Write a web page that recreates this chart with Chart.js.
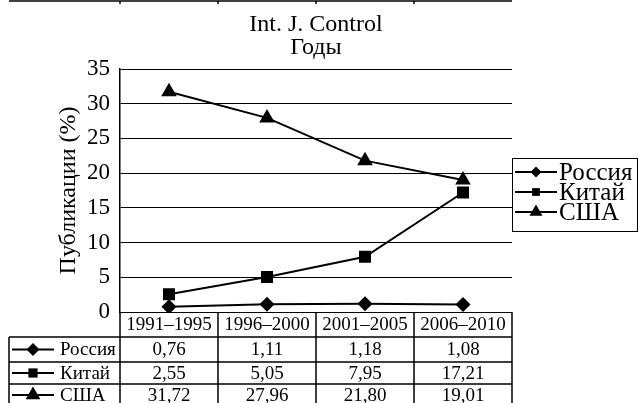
<!DOCTYPE html>
<html>
<head>
<meta charset="utf-8">
<script src="https://cdn.jsdelivr.net/npm/chart.js@4/dist/chart.umd.min.js"></script>
<style>
  html, body { margin: 0; background: #fff; }
  #chart { display: block; }
</style>
</head>
<body>
<canvas id="chart" width="639" height="403"></canvas>
<script>
// Data
const periods = ["1991–1995", "1996–2000", "2001–2005", "2006–2010"];
const countries = ["Россия", "Китай", "США"];
const russia = [0.76, 1.11, 1.18, 1.08];
const china = [2.55, 5.05, 7.95, 17.21];
const usa = [31.72, 27.96, 21.80, 19.01];
const titleLines = ["Int. J. Control", "Годы"];
const yMin = 0, yMax = 35, yStep = 5;

const FONT = "'Liberation Serif', 'DejaVu Serif', serif";
const series = [russia, china, usa];
const styles = ["rectRot", "rect", "triangle"];
const plotRadius = [7.5, 8.5, 9];
const smallRadius = [6.5, 6.5, 8.5];

function fmt(v) {
    return v.toFixed(2).replace(".", ",");
}

function marker(ctx, style, r, x, y) {
    ctx.fillStyle = "#000";
    Chart.helpers.drawPoint(ctx, { pointStyle: style, radius: r, rotation: 0, borderWidth: 0 }, x, y);
}

function sample(ctx, i, x1, x2, y, r) {
    ctx.strokeStyle = "#000";
    ctx.lineWidth = 2;
    ctx.beginPath();
    ctx.moveTo(x1, y);
    ctx.lineTo(x2, y);
    ctx.stroke();
    marker(ctx, styles[i], r, (x1 + x2) / 2, y);
}

// Title over the plot, data table under it, legend on the right, rule at the very top
const extras = {
    id: "extras",
    afterDraw(chart) {
        const { ctx, chartArea, scales: { x } } = chart;
        const step = x.getPixelForValue(1) - x.getPixelForValue(0);
        const edges = periods.map((p, i) => x.getPixelForValue(i) - step / 2);
        edges.push(x.getPixelForValue(periods.length - 1) + step / 2);
        const right = edges[edges.length - 1];
        const tableLeft = 9;
        const rowH = [25, 25, 22, 22];
        const ys = [chartArea.bottom];
        rowH.forEach(h => ys.push(ys[ys.length - 1] + h));

        ctx.save();
        // title
        ctx.fillStyle = "#000";
        ctx.font = "24px " + FONT;
        ctx.textAlign = "center";
        ctx.textBaseline = "alphabetic";
        const cx = (chartArea.left + chartArea.right) / 2;
        titleLines.forEach((t, i) => ctx.fillText(t, cx, 31 + i * 22.5));

        ctx.strokeStyle = "#000";
        ctx.lineWidth = 1.5;
        ctx.beginPath();
        // horizontal lines
        for (let r = 1; r < ys.length; r++) {
            ctx.moveTo(tableLeft, ys[r]);
            ctx.lineTo(right, ys[r]);
        }
        // vertical lines
        ctx.moveTo(tableLeft, ys[1]);
        ctx.lineTo(tableLeft, ys[ys.length - 1]);
        edges.forEach(ex => {
            ctx.moveTo(ex, ys[0]);
            ctx.lineTo(ex, ys[ys.length - 1]);
        });
        // rule at the top of the page (bottom of the previous table)
        ctx.moveTo(tableLeft, 1);
        ctx.lineTo(right, 1);
        edges.slice(0, -1).forEach(ex => {
            ctx.moveTo(ex, 1);
            ctx.lineTo(ex, 4);
        });
        ctx.stroke();

        ctx.fillStyle = "#000";
        ctx.font = "19px " + FONT;
        ctx.textBaseline = "middle";
        ctx.textAlign = "center";
        periods.forEach((p, i) => {
            ctx.fillText(p, x.getPixelForValue(i), (ys[0] + ys[1]) / 2 + 1);
        });
        countries.forEach((name, r) => {
            const cy = (ys[r + 1] + ys[r + 2]) / 2 + 1;
            sample(ctx, r, 12, 54, cy - 1, smallRadius[r]);
            ctx.fillStyle = "#000";
            ctx.textAlign = "left";
            ctx.fillText(name, 60, cy);
            ctx.textAlign = "center";
            series[r].forEach((v, i) => ctx.fillText(fmt(v), x.getPixelForValue(i), cy));
        });

        // legend
        const lx = 512.5, ly = 158.5, lw = 125, lh = 73;
        ctx.lineWidth = 1;
        ctx.strokeRect(lx, ly, lw, lh);
        ctx.font = "25px " + FONT;
        ctx.textAlign = "left";
        countries.forEach((name, i) => {
            const cy = 172 + i * 20;
            sample(ctx, i, 515, 557, cy, smallRadius[i] - 1);
            ctx.fillStyle = "#000";
            ctx.fillText(name, 559, cy + 1);
        });
        ctx.restore();
    }
};

new Chart(document.getElementById("chart"), {
    type: "line",
    data: {
        labels: periods,
        datasets: countries.map((name, i) => ({
            label: name,
            data: series[i],
            borderColor: "#000",
            backgroundColor: "#000",
            borderWidth: 2,
            pointStyle: styles[i],
            pointRadius: plotRadius[i],
            pointBorderWidth: 0,
            tension: 0
        }))
    },
    options: {
        responsive: false,
        animation: false,
        layout: { padding: { left: 0, right: 127, top: 69, bottom: 91 } },
        plugins: {
            legend: { display: false },
            tooltip: { enabled: false },
            title: { display: false }
        },
        scales: {
            x: { display: false, offset: true },
            y: {
                min: yMin,
                max: yMax,
                ticks: { stepSize: yStep, color: "#000", padding: 10, font: { family: FONT, size: 23 } },
                grid: { color: "#000", lineWidth: 1, drawTicks: false },
                border: { color: "#000", width: 1.5 },
                title: {
                    display: true,
                    text: "Публикации (%)",
                    color: "#000",
                    font: { family: FONT, size: 24 },
                    padding: { top: 54, bottom: 0 }
                },
                afterFit(scale) { scale.width = 120; }
            }
        }
    },
    plugins: [extras]
});
</script>
</body>
</html>
